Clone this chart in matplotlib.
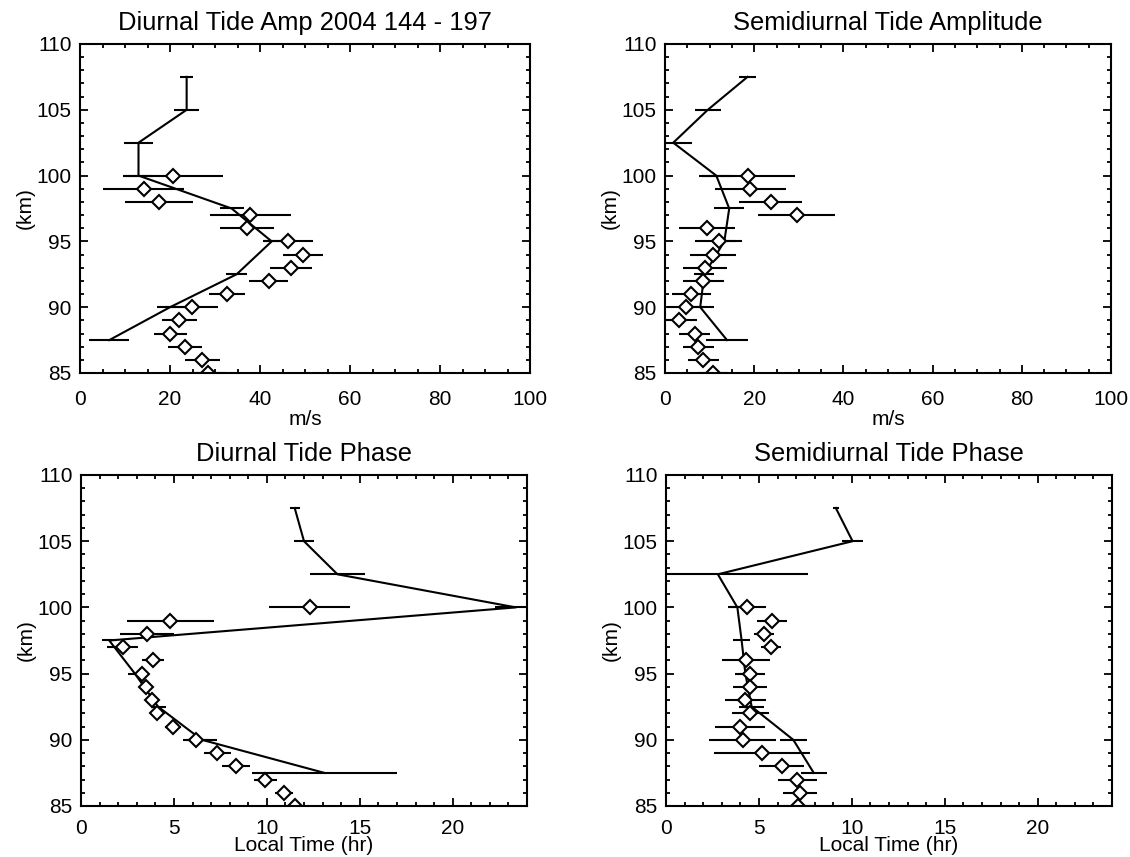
import numpy as np
import matplotlib.pyplot as plt
from matplotlib.ticker import MultipleLocator

plt.rcParams['font.family'] = ['Liberation Sans', 'DejaVu Sans']

# heights (km): fitted profile every 2.5 km, meteor points every 1 km
line_alt = [107.5, 105.0, 102.5, 100.0, 97.5, 95.0, 92.5, 90.0, 87.5]
pt_alt = [100, 99, 98, 97, 96, 95, 94, 93, 92, 91, 90, 89, 88, 87, 86, 85]

# diurnal amplitude (m/s)
d_amp_line = [23.7, 23.7, 13.0, 13.0, 33.7, 42.6, 34.8, 20.0, 6.5]
d_amp_line_err = [1.5, 2.8, 3.2, 3.3, 2.7, 2.0, 2.3, 3.0, 4.4]
d_amp_pt = [20.7, 14.2, 17.6, 37.8, 37.2, 46.3, 49.5, 46.9, 41.9, 32.6, 24.8, 22.1, 20.1, 23.4, 27.2, 28.4]
d_amp_pt_err = [11.1, 9.0, 7.6, 9.0, 6.0, 5.5, 4.4, 4.7, 4.4, 4.0, 5.9, 3.8, 3.7, 3.8, 3.8, 4.0]

# semidiurnal amplitude (m/s)
s_amp_line = [18.5, 9.6, 1.85, 11.5, 14.4, 13.3, 8.8, 7.9, 13.9]
s_amp_line_err = [1.9, 2.9, 4.25, 3.8, 3.4, 2.5, 2.2, 3.0, 4.6]
s_amp_pt = [18.7, 19.1, 23.7, 29.5, 9.4, 12.0, 10.8, 9.0, 8.6, 5.9, 4.6, 3.2, 6.7, 7.5, 8.6, 10.7]
s_amp_pt_err = [10.4, 8.0, 7.0, 8.6, 6.3, 5.3, 5.1, 4.9, 4.6, 4.4, 4.2, 4.0, 3.5, 3.5, 3.5, 3.5]

# diurnal phase (local time, hr)
d_ph_line = [11.5, 12.0, 13.8, 23.4, 1.52, 2.9, 4.15, 6.5, 13.1]
d_ph_line_err = [0.27, 0.54, 1.5, 1.1, 0.4, 0.36, 0.4, 0.8, 3.9]
d_ph_pt = [12.3, 4.8, 3.55, 2.24, 3.86, 3.28, 3.48, 3.82, 4.1, 4.95, 6.17, 7.34, 8.33, 9.92, 10.93, 11.5]
d_ph_pt_err = [2.2, 2.35, 1.45, 0.85, 0.58, 0.35, 0.3, 0.36, 0.4, 0.45, 0.67, 0.72, 0.74, 0.63, 0.5, 0.5]

# semidiurnal phase (local time, hr)
s_ph_line = [9.14, 10.04, 2.79, 3.84, 4.07, 4.27, 4.61, 6.85, 7.95]
s_ph_line_err = [0.15, 0.58, 4.83, 0.4, 0.45, 0.4, 0.67, 0.74, 0.69]
s_ph_pt = [4.36, 5.71, 5.26, 5.64, 4.31, 4.52, 4.52, 4.27, 4.54, 4.0, 4.13, 5.17, 6.23, 7.06, 7.22, 7.1]
s_ph_pt_err = [1.0, 0.8, 0.53, 0.54, 1.3, 0.8, 0.9, 1.1, 1.0, 1.35, 1.8, 2.6, 1.2, 1.05, 0.9, 0.9]

titles = ['Diurnal Tide Amp 2004 144 - 197', 'Semidiurnal Tide Amplitude',
          'Diurnal Tide Phase', 'Semidiurnal Tide Phase']

fig = plt.figure(figsize=(11.3, 8.57), dpi=100)
W, H = 1130.0, 857.0
# axes boxes in pixels: left, top, width, height
boxes = [(80, 44, 450, 329), (665, 44, 446, 329),
         (81, 475, 446, 331), (666, 475, 446, 331)]

panels = [
    (d_amp_line, d_amp_line_err, d_amp_pt, d_amp_pt_err, 'amp'),
    (s_amp_line, s_amp_line_err, s_amp_pt, s_amp_pt_err, 'amp'),
    (d_ph_line, d_ph_line_err, d_ph_pt, d_ph_pt_err, 'phase'),
    (s_ph_line, s_ph_line_err, s_ph_pt, s_ph_pt_err, 'phase'),
]

for (lx, lerr, px, perr, kind), (x0, y0, w, h), title in zip(panels, boxes, titles):
    ax = fig.add_axes([x0 / W, 1 - (y0 + h) / H, w / W, h / H])

    # fitted profile with its error bars
    ax.errorbar(lx, line_alt, xerr=lerr, fmt='none', ecolor='black', elinewidth=1.5, capsize=0)
    ax.plot(lx, line_alt, color='black', lw=1.5)
    # individual points
    ax.errorbar(px, pt_alt, xerr=perr, fmt='none', ecolor='black', elinewidth=1.5, capsize=0)
    ax.plot(px, pt_alt, 'D', ms=7, mfc='white', mec='black', mew=1.5)

    ax.set_ylim(85, 110)
    ax.yaxis.set_major_locator(MultipleLocator(5))
    ax.yaxis.set_minor_locator(MultipleLocator(1))
    ax.tick_params(which='both', direction='in', top=True, right=True, labelsize=15, width=1.3)
    ax.tick_params(which='major', length=6)
    ax.tick_params(axis='y', which='major', pad=6)
    ax.tick_params(which='minor', length=3)
    if kind == 'amp':
        ax.set_xlim(0, 100)
        ax.xaxis.set_major_locator(MultipleLocator(20))
        ax.xaxis.set_minor_locator(MultipleLocator(5))
        ax.tick_params(axis='x', which='major', pad=12)
        ax.set_xlabel('m/s', fontsize=15, labelpad=1)
    else:
        ax.set_xlim(0, 24)
        ax.xaxis.set_major_locator(MultipleLocator(5))
        ax.xaxis.set_minor_locator(MultipleLocator(1))
        ax.tick_params(axis='x', which='major', pad=9)
        ax.set_xlabel('Local Time (hr)', fontsize=15, labelpad=-1)

    ax.set_ylabel('(km)', fontsize=15, labelpad=1)
    ax.set_title(title, fontsize=18.4, pad=10)
    for s in ax.spines.values():
        s.set_linewidth(1.5)

fig.savefig('out.png', dpi=100)
